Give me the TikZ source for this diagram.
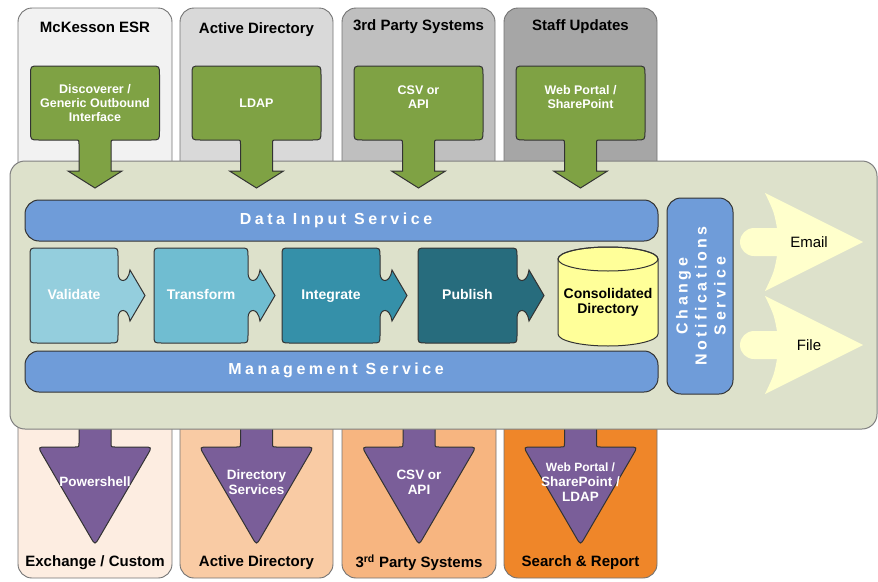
\documentclass[tikz,border=0pt]{standalone}
\usepackage{fontspec}
\setmainfont{Liberation Sans}
\newfontfamily\spacedfont[LetterSpace=22]{Liberation Sans}

\definecolor{srcone}{HTML}{F2F2F2}
\definecolor{srctwo}{HTML}{D9D9D9}
\definecolor{srcthree}{HTML}{BFBFBF}
\definecolor{srcfour}{HTML}{A6A6A6}
\definecolor{dstone}{HTML}{FDEDE1}
\definecolor{dsttwo}{HTML}{F9CBA4}
\definecolor{dstthree}{HTML}{F7B580}
\definecolor{dstfour}{HTML}{EF8629}
\definecolor{inputgreen}{HTML}{7FA244}
\definecolor{outputpurple}{HTML}{7A5E99}
\definecolor{panelgrey}{HTML}{DDE1CB}
\definecolor{serviceblue}{HTML}{6F9CD9}
\definecolor{validatecol}{HTML}{94CEDD}
\definecolor{transformcol}{HTML}{70BDD1}
\definecolor{integratecol}{HTML}{3590A9}
\definecolor{publishcol}{HTML}{276C7D}
\definecolor{dbyellow}{HTML}{FFFF99}
\definecolor{notifyyellow}{HTML}{FFFFCC}
\definecolor{edgegrey}{HTML}{333333}

\newcommand{\inputarrow}[3]% center x, name, text
{\draw[callout] (#1,66) -- (#1+56,66) .. controls (#1+64.5,66) .. (#1+64.5,75) -- (#1+64.5,131)
  .. controls (#1+64.5,140) .. (#1+56,140) -- (#1+20,140) .. controls (#1+16,140) .. (#1+16,144)
  -- (#1+16,171) -- (#1+27,171) -- (#1,188) -- (#1-27,171) -- (#1-16,171) -- (#1-16,144)
  .. controls (#1-16,140) .. (#1-20,140) -- (#1-56,140) .. controls (#1-64.5,140) .. (#1-64.5,131)
  -- (#1-64.5,75) .. controls (#1-64.5,66) .. (#1-56,66) -- cycle;
 \node[callouttext] (#2) at (#1,103) {#3};
}
\newcommand{\outputarrow}[3]% center x, name, text
{\draw[triarrow] (#1-16,420) -- (#1+16,420) -- (#1+16,443) .. controls (#1+16,447) .. (#1+20,447)
  -- (#1+48,447) .. controls (#1+57,447) .. (#1+52.5,454.8) -- (#1+4.5,537.2)
  .. controls (#1,545) .. (#1-4.5,537.2) -- (#1-52.5,454.8) .. controls (#1-57,447) .. (#1-48,447)
  -- (#1-20,447) .. controls (#1-16,447) .. (#1-16,443) -- cycle;
 \node[triangletext] (#2) at (#1,482) {#3};
}
\newcommand{\puzzlepiece}[4]% left x, body right x, colour, name
{\draw[piece, fill=#3] (#1+8,248) -- (#2-8,248) .. controls (#2,248) .. (#2,256) -- (#2,273)
  .. controls (#2,283) and (#2+10,284) .. (#2+12,270) -- (#2+27,295.5) -- (#2+12,321)
  .. controls (#2+10,307) and (#2,308) .. (#2,318) -- (#2,335) .. controls (#2,343) .. (#2-8,343)
  -- (#1+8,343) .. controls (#1,343) .. (#1,335) -- (#1,256) .. controls (#1,248) .. (#1+8,248) -- cycle;
 \coordinate (#4) at ({(#1+#2)/2},295.5);
}
\newcommand{\notifyarrow}[3]% center y, name, text
{\fill[notifyyellow] (754,#1-14) -- (777,#1-14) .. controls (774,#1-30) .. (765,#1-49)
  -- (863,#1) -- (765,#1+49) .. controls (774,#1+30) .. (777,#1+14) -- (754,#1+14)
  arc[start angle=270, end angle=90, radius=14pt] -- cycle;
 \node[notifytext] (#2) at (809,#1) {#3};
}

\tikzset{
  srcbox/.style={draw=black!55, line width=0.9pt, rounded corners=14pt},
  boxtitle/.style={font=\fontsize{15}{17}\selectfont\bfseries},
  callout/.style={draw=edgegrey, line width=1pt, fill=inputgreen},
  callouttext/.style={text=white, align=center, font=\fontsize{12.5}{14}\selectfont\bfseries},
  triarrow/.style={draw=edgegrey, line width=1pt, fill=outputpurple},
  triangletext/.style={text=white, align=center, font=\fontsize{13.5}{15}\selectfont\bfseries},
  piece/.style={draw=edgegrey, line width=1pt},
  piecetext/.style={text=white, text height=10pt, text depth=3pt,
    font=\fontsize{14}{16}\selectfont\bfseries},
  servicebar/.style={draw=edgegrey, line width=1pt, fill=serviceblue, rounded corners=14pt},
  servicetext/.style={text=white, font=\fontsize{16}{19}\selectfont\spacedfont\bfseries},
  notifytext/.style={font=\fontsize{15}{17}\selectfont},
}

\begin{document}
\begin{tikzpicture}[x=1pt,y=-1pt]
\useasboundingbox (0,0) rectangle (878,581);

% sources
\draw[srcbox, fill=srcone] (18,8) rectangle (172,200);
\draw[srcbox, fill=srctwo] (180,8) rectangle (333,200);
\draw[srcbox, fill=srcthree] (342,8) rectangle (495,200);
\draw[srcbox, fill=srcfour] (504,8) rectangle (657,200);
\node[boxtitle] (esr) at (95,27) {McKesson ESR};
\node[boxtitle] (adin) at (256.5,30) {Active Directory};
\node[boxtitle] (partyin) at (418.5,27) {3rd Party Systems};
\node[boxtitle] (staff) at (580.5,27) {Staff Updates};

% targets
\draw[srcbox, fill=dstone] (18,400) rectangle (172,578);
\draw[srcbox, fill=dsttwo] (180,400) rectangle (333,578);
\draw[srcbox, fill=dstthree] (342,400) rectangle (496,578);
\draw[srcbox, fill=dstfour] (504,400) rectangle (657,578);
\node[boxtitle] (exchange) at (95,563) {Exchange / Custom};
\node[boxtitle] (adout) at (256.5,563) {Active Directory};
\node[boxtitle] (partyout) at (419,563) {3\textsuperscript{rd} Party Systems};
\node[boxtitle] (search) at (580.5,563) {Search \& Report};

\outputarrow{95}{powershell}{Powershell}
\outputarrow{256.5}{dirservices}{Directory\\Services}
\outputarrow{419}{csvout}{CSV or\\API}
\outputarrow{580.5}{portalout}{\fontsize{12}{13.5}\selectfont Web Portal /\\SharePoint /\\LDAP}

% main panel
\draw[draw=black!50, line width=1pt, fill=panelgrey, rounded corners=15pt] (10,161) rectangle (877,429);

\inputarrow{95}{discoverer}{Discoverer /\\Generic Outbound\\Interface}
\inputarrow{256.5}{ldap}{LDAP}
\inputarrow{418.5}{csvin}{CSV or\\API\\[-2pt]}
\inputarrow{580.5}{portalin}{Web Portal /\\SharePoint\\[-2pt]}

\draw[servicebar] (25,200) rectangle (658,241);
\node[servicetext] (datainput) at (336,220) {Data Input Service};
\draw[servicebar] (25,351) rectangle (658,392);
\node[servicetext] (management) at (336,370.5) {Management Service};

\puzzlepiece{30}{118}{validatecol}{validate}
\puzzlepiece{154}{248}{transformcol}{transform}
\puzzlepiece{282}{380}{integratecol}{integrate}
\puzzlepiece{418}{517}{publishcol}{publish}
\node[piecetext] at (validate) {Validate};
\node[piecetext] at (transform) {Transform};
\node[piecetext] at (integrate) {Integrate};
\node[piecetext] at (publish) {Publish};

% consolidated directory
\draw[draw=edgegrey, line width=1pt, fill=dbyellow] (558,259) -- (558,334)
  arc[start angle=180, end angle=360, x radius=50pt, y radius=12pt] -- (658,259)
  arc[start angle=0, end angle=180, x radius=50pt, y radius=12pt] -- cycle;
\draw[draw=edgegrey, line width=1pt] (608,259) ellipse (50pt and 12pt);
\node[align=center, font=\fontsize{14}{15}\selectfont\bfseries] (consolidated) at (608,302)
  {Consolidated\\Directory};

% notifications
\draw[servicebar] (667,198) rectangle (733,394);
\node[servicetext, rotate=90, align=center] (changenotify) at (701,296)
  {Change\\Notifications\\Service};
\notifyarrow{242}{email}{Email}
\notifyarrow{345}{file}{File}
\end{tikzpicture}
\end{document}
